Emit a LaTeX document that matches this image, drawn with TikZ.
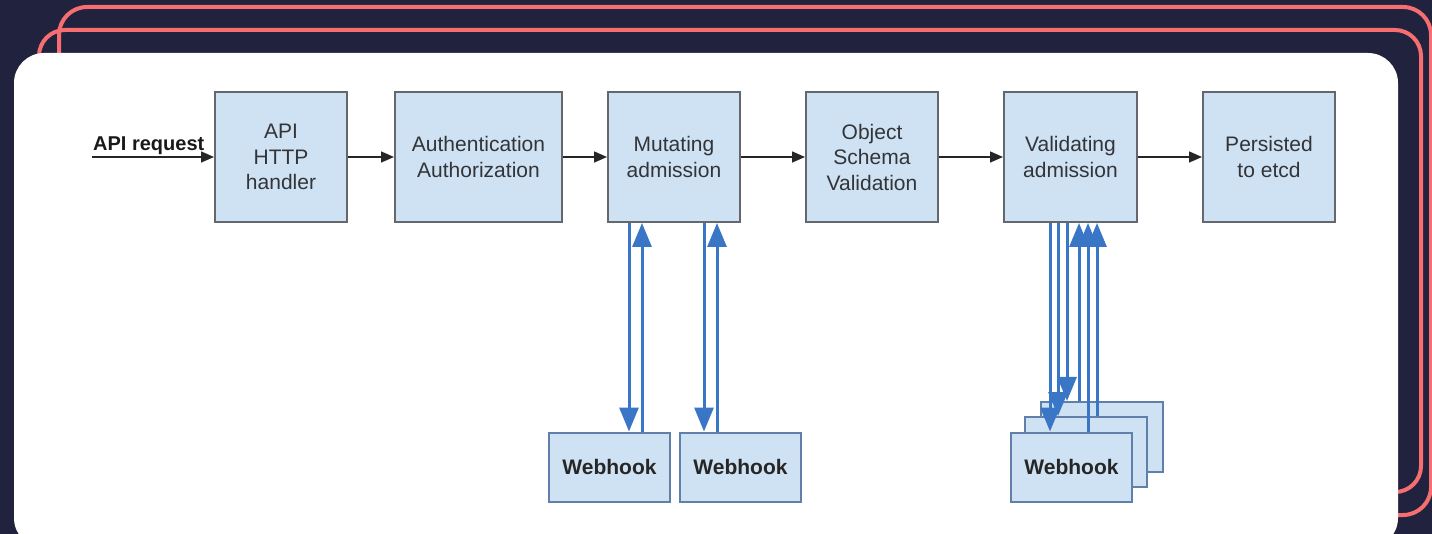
\documentclass[tikz,border=0pt]{standalone}
\usepackage{fontspec}
\setmainfont{Liberation Sans}
\usetikzlibrary{arrows.meta,calc}
\definecolor{navy}{RGB}{33,35,62}
\definecolor{coral}{RGB}{246,110,112}
\definecolor{boxfill}{RGB}{207,226,243}
\definecolor{boxedge}{RGB}{100,104,110}
\definecolor{hookedge}{RGB}{96,128,170}
\definecolor{hookblue}{RGB}{58,118,198}
\definecolor{textgray}{RGB}{50,52,56}
\tikzset{
  stage/.style={draw=boxedge, line width=2pt, fill=boxfill, inner sep=0pt,
    minimum height=130pt, align=center, text=textgray,
    font=\fontsize{21}{25.5}\selectfont},
  hook/.style={draw=hookedge, line width=2pt, fill=boxfill, inner sep=0pt,
    minimum width=121pt, minimum height=69pt, text=black!85,
    font=\fontsize{21}{25}\selectfont\bfseries},
  flow/.style={draw=black!85, line width=1.5pt,
    -{Triangle[length=13pt,width=11pt]}},
  call/.style={draw=hookblue, line width=3pt,
    -{Triangle[length=24pt,width=19pt]}},
  frame/.style={draw=coral, line width=4pt},
}
\begin{document}
\begin{tikzpicture}[x=1pt,y=-1pt]
\useasboundingbox (0,0) rectangle (1432,534);
% backdrop and decorative outlines
\fill[navy] (0,0) rectangle (1432,534);
\draw[frame, rounded corners=28pt] (59,7) rectangle (1431,515);
\draw[frame, rounded corners=26pt] (39,30) rectangle (1421,492);
\fill[white, rounded corners=30pt] (14,53) rectangle (1398,548);

% request pipeline
\node[stage, minimum width=132pt] (api)  at (281,157)   {API\\HTTP\\handler};
\node[stage, minimum width=167pt] (auth) at (478.5,157) {Authentication\\Authorization};
\node[stage, minimum width=132pt] (mut)  at (674,157)   {Mutating\\admission};
\node[stage, minimum width=132pt] (obj)  at (872,157)   {Object\\Schema\\Validation};
\node[stage, minimum width=133pt] (val)  at (1070.5,157){Validating\\admission};
\node[stage, minimum width=132pt] (etcd) at (1269,157)  {Persisted\\to etcd};

\coordinate (req) at (92,157);
\node[anchor=base west, inner sep=0pt, text=black!90,
      font=\fontsize{20}{24}\selectfont\bfseries] (reqlabel) at (93,151) {API request};
\draw[flow] (req) -- (api.west);
\draw[flow] (api) -- (auth);
\draw[flow] (auth) -- (mut);
\draw[flow] (mut) -- (obj);
\draw[flow] (obj) -- (val);
\draw[flow] (val) -- (etcd);

% mutating webhooks
\node[hook] (wh1) at (609.5,467) {Webhook};
\node[hook] (wh2) at (740.5,467) {Webhook};
\draw[call] ([xshift=-45pt]mut.south) -- ([xshift=-45pt]mut.south |- wh1.north);
\draw[call] ([xshift=-32pt]mut.south |- wh1.north) -- ([xshift=-32pt]mut.south);
\draw[call] ([xshift=30pt]mut.south) -- ([xshift=30pt]mut.south |- wh2.north);
\draw[call] ([xshift=43pt]mut.south |- wh2.north) -- ([xshift=43pt]mut.south);

% validating webhooks, stacked (only the front card's label is visible)
\node[hook, minimum width=122pt, minimum height=70pt] (vwh3) at (1102,437) {};
\node[hook, minimum width=122pt, minimum height=70pt] (vwh2) at (1086,452) {};
\node[hook] (vwh1) at (1071.5,467) {Webhook};
\draw[call] ([xshift=-20.5pt]val.south) -- ([xshift=-20.5pt]val.south |- vwh1.north);
\draw[call] ([xshift=-12.5pt]val.south) -- ([xshift=-12.5pt]val.south |- vwh2.north);
\draw[call] ([xshift=-3.5pt]val.south) -- ([xshift=-3.5pt]val.south |- vwh3.north);
\draw[call] ([xshift=8.5pt]val.south |- vwh3.north) -- ([xshift=8.5pt]val.south);
\draw[call] ([xshift=17.5pt]val.south |- vwh1.north) -- ([xshift=17.5pt]val.south);
\draw[call] ([xshift=26.5pt]val.south |- vwh2.north) -- ([xshift=26.5pt]val.south);
\end{tikzpicture}
\end{document}
